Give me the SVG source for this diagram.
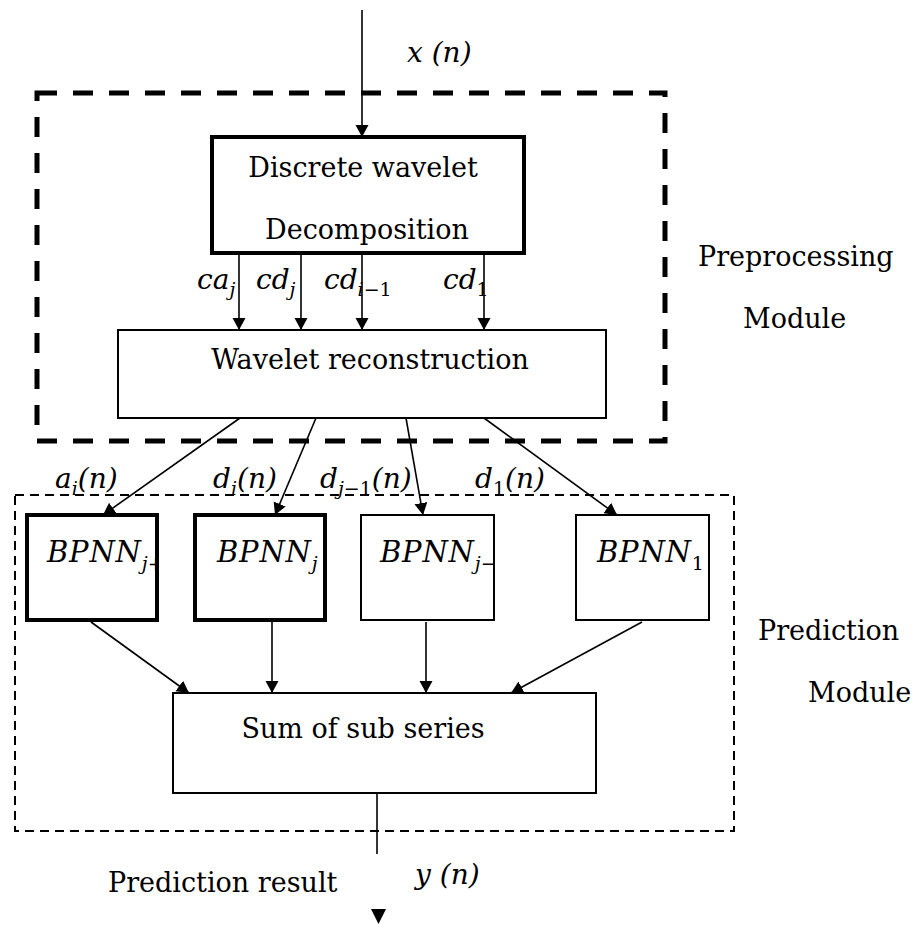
<svg xmlns="http://www.w3.org/2000/svg" width="912" height="925" viewBox="0 0 912 925">
<style>
  .t { font-family: "DejaVu Serif", "Liberation Serif", serif; font-size: 27px; fill: #000; }
  .m { font-family: "DejaVu Serif", "Liberation Serif", serif; font-style: italic; font-size: 28px; fill: #000; }
  .bp { font-family: "DejaVu Serif", "Liberation Serif", serif; font-style: italic; font-size: 29px; fill: #000; }
  .ls { letter-spacing: 0.8px; }
  .sub { font-size: 19px; letter-spacing: 0; }
  .up { font-style: normal; }
  .thick { fill: #fff; stroke: #000; stroke-width: 4; }
  .thin { fill: #fff; stroke: #000; stroke-width: 2; }
  .conn { stroke: #000; stroke-width: 1.6; fill: none; marker-end: url(#ah); }
  .mod1 { fill: none; stroke: #000; stroke-width: 5; stroke-dasharray: 20 16; }
  .mod2 { fill: none; stroke: #000; stroke-width: 2; stroke-dasharray: 9 6; }
</style>
<defs>
  <marker id="ah" markerUnits="userSpaceOnUse" markerWidth="14" markerHeight="14" refX="12" refY="6.5" orient="auto">
    <path d="M0,0 L12,6.5 L0,13 z" fill="#000"/>
  </marker>
  <clipPath id="c1"><rect x="27" y="515" width="128" height="105"/></clipPath>
  <clipPath id="c3"><rect x="361" y="515" width="132" height="105"/></clipPath>
</defs>
<rect width="912" height="925" fill="#fff"/>

<g id="preprocessing-module">
  <rect class="mod1" x="37" y="93" width="628" height="348"/>
  <text class="t" x="698" y="266">Preprocessing</text>
  <text class="t" x="743" y="328">Module</text>
</g>

<g id="prediction-module">
  <rect class="mod2" x="15" y="495" width="719" height="336"/>
  <text class="t" x="758" y="640">Prediction</text>
  <text class="t" x="808" y="702">Module</text>
</g>

<g id="dwd">
  <rect class="thick" x="212" y="137" width="312" height="116"/>
  <text class="t" x="363" y="177" text-anchor="middle">Discrete wavelet</text>
  <text class="t" x="367" y="239" text-anchor="middle">Decomposition</text>
</g>

<g id="wavelet-reconstruction">
  <rect class="thin" x="118" y="330" width="488" height="88"/>
  <text class="t" x="370" y="369" text-anchor="middle">Wavelet reconstruction</text>
</g>

<g id="bpnn-j1">
  <rect class="thick" x="27" y="515" width="130" height="105"/>
  <text class="bp" x="47" y="562" clip-path="url(#c1)"><tspan class="ls">BPNN</tspan><tspan class="sub" dy="8">j<tspan class="up">+1</tspan></tspan></text>
</g>
<g id="bpnn-j">
  <rect class="thick" x="195" y="515" width="130" height="105"/>
  <text class="bp" x="217" y="562"><tspan class="ls">BPNN</tspan><tspan class="sub" dy="8">j</tspan></text>
</g>
<g id="bpnn-jm1">
  <rect class="thin" x="361" y="515" width="133" height="105"/>
  <text class="bp" x="380" y="562" clip-path="url(#c3)"><tspan class="ls">BPNN</tspan><tspan class="sub" dy="8">j<tspan class="up">−1</tspan></tspan></text>
</g>
<g id="bpnn-1">
  <rect class="thin" x="576" y="515" width="133" height="105"/>
  <text class="bp" x="597" y="562"><tspan class="ls">BPNN</tspan><tspan class="sub up" dy="8">1</tspan></text>
</g>

<g id="sum">
  <rect class="thin" x="173" y="693" width="423" height="100"/>
  <text class="t" x="363" y="738" text-anchor="middle">Sum of sub series</text>
</g>

<g id="connectors">
  <line class="conn" x1="362" y1="10" x2="362" y2="137"/>
  <line class="conn" x1="239" y1="255" x2="239" y2="330"/>
  <line class="conn" x1="301" y1="255" x2="301" y2="330"/>
  <line class="conn" x1="362" y1="255" x2="362" y2="330"/>
  <line class="conn" x1="484" y1="255" x2="484" y2="330"/>
  <line class="conn" x1="240" y1="418" x2="103" y2="515"/>
  <line class="conn" x1="316" y1="418" x2="275" y2="515"/>
  <line class="conn" x1="406" y1="418" x2="423" y2="515"/>
  <line class="conn" x1="484" y1="418" x2="617" y2="515"/>
  <line class="conn" x1="91" y1="622" x2="189" y2="693"/>
  <line class="conn" x1="272" y1="622" x2="272" y2="693"/>
  <line class="conn" x1="426" y1="622" x2="426" y2="693"/>
  <line class="conn" x1="642" y1="622" x2="511" y2="693"/>
  <line x1="377" y1="793" x2="377" y2="854" stroke="#000" stroke-width="1.6"/>
  <polygon points="371,909 386,909 378.5,924" fill="#000"/>
</g>

<g id="labels">
  <text class="m" x="407" y="62">x (n)</text>
  <text class="m" x="415" y="884">y (n)</text>
  <text class="t" x="108" y="892">Prediction result</text>
  <text class="m" x="197" y="289">ca<tspan class="sub" dy="7">j</tspan></text>
  <text class="m" x="256" y="289">cd<tspan class="sub" dy="7">j</tspan></text>
  <text class="m" x="324" y="289">cd<tspan class="sub" dy="7">i<tspan class="up">−1</tspan></tspan></text>
  <text class="m" x="443" y="289">cd<tspan class="sub up" dy="7">1</tspan></text>
  <text class="m" x="55" y="488">a<tspan class="sub" dy="7">i</tspan><tspan dy="-7">(n)</tspan></text>
  <text class="m" x="213" y="488">d<tspan class="sub" dy="7">i</tspan><tspan dy="-7">(n)</tspan></text>
  <text class="m" x="320" y="488">d<tspan class="sub" dy="7">j<tspan class="up">−1</tspan></tspan><tspan dy="-7">(n)</tspan></text>
  <text class="m" x="475" y="488">d<tspan class="sub up" dy="7">1</tspan><tspan dy="-7">(n)</tspan></text>
</g>
</svg>
